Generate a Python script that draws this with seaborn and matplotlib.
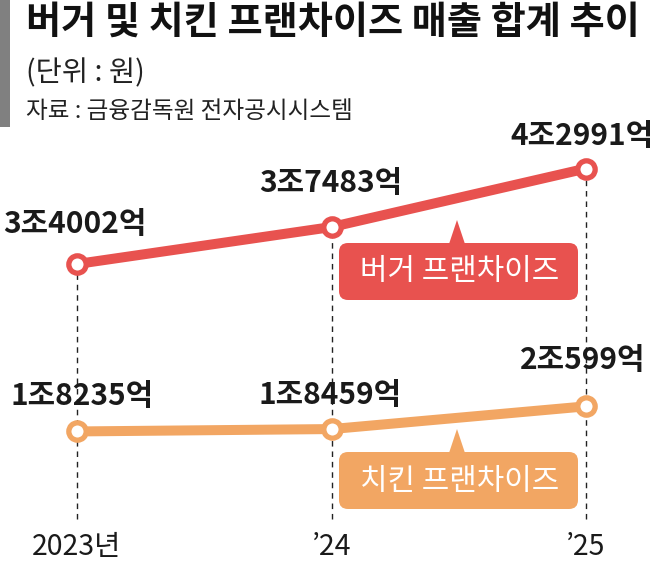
import seaborn as sns
import matplotlib.pyplot as plt
import pandas as pd
import numpy as np
from matplotlib.patches import FancyBboxPatch, Polygon, Rectangle
from matplotlib.transforms import Affine2D, blended_transform_factory

# 데이터 (단위: 억원)
years = ['2023년', '\u201924', '\u201925']
burger = [34002, 37483, 42991]
chicken = [18235, 18459, 20599]
series_names = ['버거 프랜차이즈', '치킨 프랜차이즈']

title = '버거 및 치킨 프랜차이즈 매출 합계 추이'
unit_text = '(단위 : 원)'
source_text = '자료 : 금융감독원 전자공시시스템'

red = '#E8524F'
orange = '#F2A663'

def fmt(v):
    return f'{v // 10000}조{v % 10000}억'

df = pd.DataFrame({
    'idx': list(range(len(years))) * 2,
    'value': burger + chicken,
    'series': [series_names[0]] * len(years) + [series_names[1]] * len(years),
})

sns.set_theme(style='white')
plt.rcParams['font.family'] = ['Noto Sans CJK KR', 'DejaVu Sans']

W, H = 661, 567
fig = plt.figure(figsize=(W / 100, H / 100), dpi=100)
ax = fig.add_axes([0, 0, 1, 1])
ax.set_axis_off()

# 픽셀(좌상단 기준) 변환
pix = Affine2D().scale(1 / 100, -1 / 100).translate(0, H / 100) + fig.dpi_scale_trans

# 점선 (세로)
ax.vlines(range(len(years)), ymin=9990, ymax=burger, colors='#222222',
          linestyles=(0, (4, 3.5)), linewidth=1, zorder=1)

sns.lineplot(data=df, x='idx', y='value', hue='series',
             palette=[red, orange], linewidth=7.2, marker='o',
             markersize=12.5, legend=False, ax=ax, zorder=3)
for line in ax.lines:
    line.set_markerfacecolor('white')
    line.set_markeredgecolor(line.get_color())
    line.set_markeredgewidth(3.8)
    line.set_solid_capstyle('round')

# 좌표계: 그림 픽셀에 맞춤
ax.set_xlim(-77 / 254.5, (W - 77) / 254.5)
ax.set_ylim(5471, 58861)

# 값 레이블
burger_dy = [40, 44, 33]
chicken_dy = [35, 34, 46]
burger_dx = [-2, -1, -4]
chicken_dx = [5, -1, -3]
for i, v in enumerate(burger):
    ax.annotate(fmt(v), (i, v), xytext=(burger_dx[i], burger_dy[i]),
                textcoords='offset pixels', ha='center', va='center',
                fontsize=21.5, fontweight='bold', color='#1a1a1a', zorder=4)
for i, v in enumerate(chicken):
    ax.annotate(fmt(v), (i, v), xytext=(chicken_dx[i], chicken_dy[i]),
                textcoords='offset pixels', ha='center', va='center',
                fontsize=21.5, fontweight='bold', color='#1a1a1a', zorder=4)

# x축 레이블
bt = blended_transform_factory(ax.transData, ax.transAxes)
for i, y in enumerate(years):
    ax.text(i, 1 - 547 / H, y, transform=bt, ha='center', va='center',
            fontsize=20.5, color='#1a1a1a')

# 말풍선
for name, color, top in [(series_names[0], red, 243), (series_names[1], orange, 452)]:
    box = FancyBboxPatch((339, top), 239, 57,
                         boxstyle='round,pad=0,rounding_size=9',
                         transform=pix, facecolor=color, edgecolor='none', zorder=2)
    fig.patches.append(box)
    tri = Polygon([(449, top + 1), (465, top + 1), (457, top - 23)],
                  closed=True, transform=pix, facecolor=color, edgecolor='none', zorder=2)
    fig.patches.append(tri)
    fig.text(460, top + 29, name, transform=pix, ha='center', va='center',
             fontsize=21.5, color='white')

# 제목 영역
fig.patches.append(Rectangle((0, 0), 10, 127, transform=pix,
                             facecolor='#808080', edgecolor='none'))
fig.text(26, 22, title, transform=pix, ha='left', va='center',
         fontsize=27.5, fontweight='bold', color='#111111')
fig.text(26, 73, unit_text, transform=pix, ha='left', va='center',
         fontsize=20.5, color='#222222')
fig.text(26, 111, source_text, transform=pix, ha='left', va='center',
         fontsize=17, color='#222222')

plt.savefig('out.png', dpi=100)
